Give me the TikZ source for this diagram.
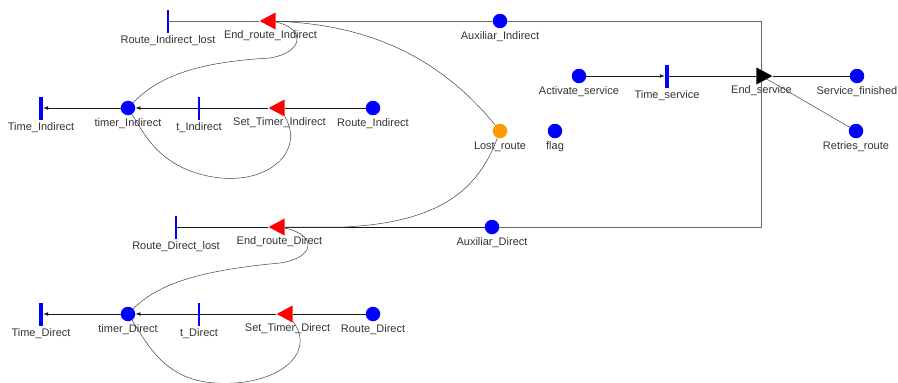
\documentclass[tikz,border=0pt]{standalone}
\usepackage{fontspec}
\newfontfamily\netfont{Liberation Sans}
\usetikzlibrary{shapes.geometric,arrows}

\definecolor{lostorange}{RGB}{255,153,0}

\tikzset{
	place/.style={circle,fill=blue,minimum size=14.5pt,inner sep=0pt},
	lostplace/.style={place,fill=lostorange},
	bar/.style={rectangle,fill=blue,minimum width=2pt,minimum height=23pt,inner sep=0pt},
	thickbar/.style={bar,minimum width=4pt},
	trileft/.style={isosceles triangle,isosceles triangle stretches,fill=red,
		minimum width=17pt,minimum height=16pt,inner sep=0pt,shape border rotate=180},
	triright/.style={trileft,fill=black,shape border rotate=0},
	every label/.style={font=\netfont\fontsize{11}{13}\selectfont,text=black!80,inner sep=0pt},
	arc/.style={black!90,line width=0.7pt},
	frame/.style={black!60,line width=0.8pt},
	curve/.style={black!75,line width=0.5pt},
}

\begin{document}
\begin{tikzpicture}[x=1pt,y=-1pt,label distance=3pt,>=latex]
\useasboundingbox (0,0) rectangle (898,383);

% indirect route
\node[bar,label=below:{Route\_Indirect\_lost}] (Route_Indirect_lost) at (168,21) {};
\node[trileft,label=below:{End\_route\_Indirect}] (End_route_Indirect) at (270.5,21) {};
\node[place,label=below:{Auxiliar\_Indirect}] (Auxiliar_Indirect) at (500,21) {};
\node[thickbar,label=below:{Time\_Indirect}] (Time_Indirect) at (41,108) {};
\node[place,label=below:{timer\_Indirect}] (timer_Indirect) at (128,108) {};
\node[bar,label=below:{t\_Indirect}] (t_Indirect) at (199,108) {};
\node[trileft,label=below:{Set\_Timer\_Indirect}] (Set_Timer_Indirect) at (279.5,108) {};
\node[place,label=below:{Route\_Indirect}] (Route_Indirect) at (373,108) {};

% service part
\node[place,label=below:{Activate\_service}] (Activate_service) at (579,76) {};
\node[thickbar,label=below:{Time\_service}] (Time_service) at (667,76) {};
\node[triright,label=below:{End\_service}] (End_service) at (761.5,76) {};
\node[place,label=below:{Service\_finished}] (Service_finished) at (857,76) {};
\node[place,label=below:{Retries\_route}] (Retries_route) at (856,131) {};
\node[lostplace,label=below:{Lost\_route}] (Lost_route) at (500,131) {};
\node[place,label=below:{flag}] (flag) at (555,131) {};

% direct route
\node[bar,label=below:{Route\_Direct\_lost}] (Route_Direct_lost) at (176,227) {};
\node[trileft,label=below:{End\_route\_Direct}] (End_route_Direct) at (279.5,227) {};
\node[place,label=below:{Auxiliar\_Direct}] (Auxiliar_Direct) at (492,227) {};
\node[thickbar,label=below:{Time\_Direct}] (Time_Direct) at (41,314) {};
\node[place,label=below:{timer\_Direct}] (timer_Direct) at (128,314) {};
\node[bar,label=below:{t\_Direct}] (t_Direct) at (199,314) {};
\node[trileft,label=below:{Set\_Timer\_Direct}] (Set_Timer_Direct) at (287.5,314) {};
\node[place,label=below:{Route\_Direct}] (Route_Direct) at (373,314) {};

% straight arcs
\draw[arc] (Route_Indirect) -- (Set_Timer_Indirect);
\draw[arc] (Set_Timer_Indirect) -- (t_Indirect);
\draw[arc,->] (t_Indirect) -- (timer_Indirect);
\draw[arc,->] (timer_Indirect) -- (Time_Indirect);
\draw[arc] (Route_Direct) -- (Set_Timer_Direct);
\draw[arc] (Set_Timer_Direct) -- (t_Direct);
\draw[arc,->] (t_Direct) -- (timer_Direct);
\draw[arc,->] (timer_Direct) -- (Time_Direct);
\draw[arc,->] (Activate_service) -- (Time_service);
\draw[arc] (Time_service) -- (End_service);
\draw[arc] (End_service) -- (Service_finished);
\draw[curve] (Retries_route) -- (End_service);

% the big loop round the service
\draw[frame] (End_service) |- (Auxiliar_Indirect);
\draw[frame] (Auxiliar_Indirect) -- (End_route_Indirect) -- (Route_Indirect_lost);
\draw[frame] (End_service) |- (Auxiliar_Direct);
\draw[arc] (Auxiliar_Direct) -- (End_route_Direct) -- (Route_Direct_lost);

% curved arcs
\draw[curve] (End_route_Indirect) .. controls (305,28) and (305,52) .. (270,58)
	.. controls (200,62) and (160,75) .. (timer_Indirect);
\draw[curve] (timer_Indirect) .. controls (145,135) and (160,168) .. (213,177)
	.. controls (270,186) and (305,150) .. (Set_Timer_Indirect);
\draw[curve] (End_route_Indirect) .. controls (350,24) and (430,45) .. (Lost_route);
\draw[curve] (Lost_route) .. controls (478,190) and (440,222) .. (345,227) -- (End_route_Direct);
\draw[curve] (End_route_Direct) .. controls (318,235) and (315,258) .. (280,263)
	.. controls (205,270) and (160,282) .. (timer_Direct);
\draw[curve] (timer_Direct) .. controls (148,345) and (165,380) .. (215,383)
	.. controls (275,387) and (318,355) .. (Set_Timer_Direct);

\end{tikzpicture}
\end{document}
